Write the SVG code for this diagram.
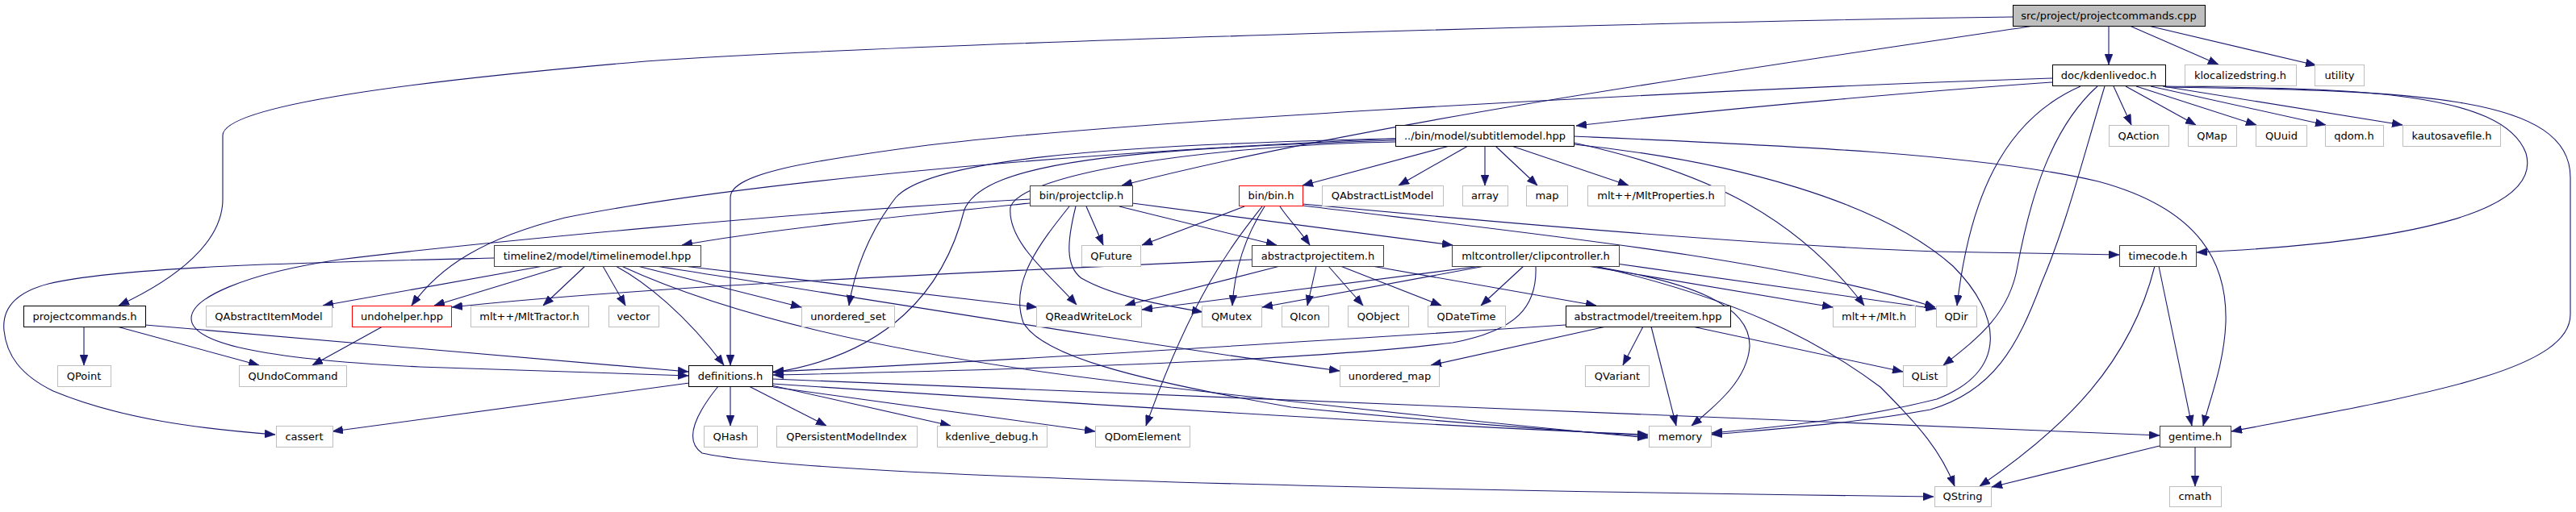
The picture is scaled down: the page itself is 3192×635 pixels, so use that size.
<svg xmlns="http://www.w3.org/2000/svg" width="3192" height="635" viewBox="0 0 3192 635">
<style>
text{font-family:"DejaVu Sans","Liberation Sans",sans-serif;font-size:13px;text-anchor:middle;fill:#000}
rect{stroke-width:1}
.root{fill:#bfbfbf;stroke:#000}
.n{fill:#fff;stroke:#000}
.d{fill:#fff;stroke:#404040}
.g{fill:#fff;stroke:#bfbfbf}
.r{fill:#fff;stroke:#ff0000}
#edges path{fill:none;stroke:#191970;stroke-width:1.1;marker-end:url(#ah)}
</style>
<defs>
<marker id="ah" markerUnits="userSpaceOnUse" markerWidth="13" markerHeight="10" refX="13" refY="5" orient="auto">
<path d="M0,0 L13,5 L0,10 z" fill="#191970" stroke="#191970" stroke-width="0.5"/>
</marker>
</defs>
<rect width="3192" height="635" fill="#fff"/>
<g id="edges">
<path d="M2613,32 L2613,80"/>
<path d="M2639,32 L2749,80"/>
<path d="M2662,32 L2870,81"/>
<path d="M2494,21 C2000,28 1100,55 800,76 C520,100 276,130 276,168 L276,247 C276,300 220,345 147,379"/>
<path d="M2521,32 C2200,80 1700,150 1390,230"/>
<path d="M2543,102 C2400,112 2150,133 1953,156"/>
<path d="M2543,97 L2400,102 C2000,118 1400,150 1150,180 C1000,200 905,215 905,245 L905,453"/>
<path d="M2578,107 C2480,150 2440,250 2425,379"/>
<path d="M2599,107 C2540,160 2515,250 2500,330 C2490,390 2450,420 2408,453"/>
<path d="M2608,107 C2580,200 2560,280 2530,350 C2500,430 2470,485 2392,508 C2300,525 2200,532 2121,539"/>
<path d="M2619,107 L2641,155"/>
<path d="M2634,107 L2721,155"/>
<path d="M2647,107 L2796,155"/>
<path d="M2665,107 L2882,155"/>
<path d="M2680,107 L2977,155"/>
<path d="M2683,107 C2900,110 3100,110 3130,190 C3150,260 3000,300 2722,313"/>
<path d="M2683,108 C3000,112 3185,120 3185,220 L3185,390 C3185,460 3000,490 2765,535"/>
<path d="M1796,181 L1614,230"/>
<path d="M1819,181 L1733,230"/>
<path d="M1840,181 L1840,230"/>
<path d="M1853,181 L1905,230"/>
<path d="M1873,181 L2018,230"/>
<path d="M1950,177 C2100,210 2220,260 2310,379"/>
<path d="M1950,169 C2200,180 2450,190 2600,225 C2730,260 2760,330 2758,400 C2756,450 2740,490 2730,528"/>
<path d="M1950,179 C2150,200 2330,250 2420,330 C2480,390 2490,460 2400,495 C2300,520 2200,530 2121,537"/>
<path d="M1729,176 C1500,180 1265,215 1252,257 C1248,300 1300,340 1334,378"/>
<path d="M1729,174 C1400,185 1220,200 1195,260 C1170,360 1100,440 958,462"/>
<path d="M1729,172 C1350,180 1150,200 1110,245 C1075,290 1058,340 1052,379"/>
<path d="M1729,172 C1300,190 900,230 700,270 C600,295 545,330 510,379"/>
<path d="M1276,252 C1100,270 950,285 845,304"/>
<path d="M1276,247 C1000,262 600,300 420,322 C300,340 237,370 237,395 C237,425 320,445 520,455 L853,466"/>
<path d="M1346,256 L1367,304"/>
<path d="M1387,256 L1582,304"/>
<path d="M1403,252 L1800,304"/>
<path d="M1333,256 C1322,300 1320,330 1340,345 C1380,368 1440,378 1490,387"/>
<path d="M1325,256 C1290,300 1250,350 1268,400 C1290,440 1400,470 1600,505 C1800,525 1950,535 2042,541"/>
<path d="M1542,256 L1415,304"/>
<path d="M1586,256 C1595,270 1610,285 1623,304"/>
<path d="M1564,256 C1530,300 1480,360 1420,528"/>
<path d="M1567,256 C1545,290 1530,330 1527,379"/>
<path d="M1614,253 C1900,280 2200,305 2400,312 L2626,316"/>
<path d="M1614,255 C1900,290 2200,320 2398,381"/>
<path d="M1551,322 C1200,338 800,355 560,381"/>
<path d="M1586,330 L1394,379"/>
<path d="M1631,330 L1620,379"/>
<path d="M1646,330 L1689,379"/>
<path d="M1661,330 L1786,379"/>
<path d="M1700,330 L1978,379"/>
<path d="M1835,330 L1415,384"/>
<path d="M1840,330 L1564,381"/>
<path d="M1888,330 L1835,379"/>
<path d="M1903,330 C1905,380 1880,410 1800,425 C1600,450 1200,460 958,465"/>
<path d="M1967,330 L2271,381"/>
<path d="M1972,330 C2100,350 2170,380 2168,430 C2165,470 2130,500 2096,528"/>
<path d="M1977,330 C2150,370 2250,420 2330,480 C2380,530 2405,560 2422,603"/>
<path d="M2003,327 L2399,383"/>
<path d="M1940,403 C1600,425 1200,450 958,461"/>
<path d="M1990,405 L1773,453"/>
<path d="M2036,405 L2011,453"/>
<path d="M2046,405 L2077,528"/>
<path d="M2097,405 L2358,461"/>
<path d="M612,320 C400,325 150,330 60,352 C10,365 3,390 5,410 C8,440 25,465 66,485 C150,520 250,532 341,539"/>
<path d="M673,330 L400,379"/>
<path d="M699,330 L538,379"/>
<path d="M725,330 L673,379"/>
<path d="M747,330 L775,379"/>
<path d="M763,330 C800,350 850,390 897,453"/>
<path d="M790,330 L993,381"/>
<path d="M847,330 L1285,381"/>
<path d="M813,330 C1100,375 1400,425 1660,460"/>
<path d="M770,330 C900,390 1100,440 1400,475 C1700,510 1900,530 2042,543"/>
<path d="M104,405 L104,453"/>
<path d="M145,405 L321,453"/>
<path d="M180,403 L853,461"/>
<path d="M474,405 L387,453"/>
<path d="M905,479 L905,528"/>
<path d="M928,479 L1024,528"/>
<path d="M956,478 L1178,528"/>
<path d="M958,480 L1357,535"/>
<path d="M854,475 L412,535"/>
<path d="M890,479 C865,510 845,545 870,562 C1000,590 1600,606 2396,616"/>
<path d="M957,470 C1600,497 2200,525 2676,540"/>
<path d="M957,476 C1400,505 1800,530 2042,539"/>
<path d="M2676,553 L2468,604"/>
<path d="M2720,554 L2720,603"/>
<path d="M2675,330 L2716,528"/>
<path d="M2670,330 C2640,450 2560,530 2453,603"/>
</g>
<g id="main"><rect class="root" x="2494.5" y="6.5" width="238" height="26"/><text x="2613" y="24">src/project/projectcommands.cpp</text></g>
<g id="kdoc"><rect class="n" x="2543.5" y="80.5" width="140" height="26"/><text x="2613" y="98">doc/kdenlivedoc.h</text></g>
<g id="kloc"><rect class="g" x="2707.5" y="80.5" width="138" height="26"/><text x="2776" y="98">klocalizedstring.h</text></g>
<g id="utility"><rect class="g" x="2868.5" y="80.5" width="61" height="26"/><text x="2899" y="98">utility</text></g>
<g id="qaction"><rect class="g" x="2613.5" y="155.5" width="74" height="26"/><text x="2650" y="173">QAction</text></g>
<g id="qmap"><rect class="g" x="2711.5" y="155.5" width="60" height="26"/><text x="2741" y="173">QMap</text></g>
<g id="quuid"><rect class="g" x="2795.5" y="155.5" width="63" height="26"/><text x="2827" y="173">QUuid</text></g>
<g id="qdom"><rect class="g" x="2881.5" y="155.5" width="72" height="26"/><text x="2917" y="173">qdom.h</text></g>
<g id="kauto"><rect class="g" x="2977.5" y="155.5" width="121" height="26"/><text x="3038" y="173">kautosavefile.h</text></g>
<g id="subt"><rect class="n" x="1729.5" y="155.5" width="221" height="26"/><text x="1840" y="173">../bin/model/subtitlemodel.hpp</text></g>
<g id="pclip"><rect class="d" x="1276.5" y="230.5" width="127" height="25"/><text x="1340" y="247">bin/projectclip.h</text></g>
<g id="bin"><rect class="r" x="1535.5" y="230.5" width="79" height="25"/><text x="1575" y="247">bin/bin.h</text></g>
<g id="qalm"><rect class="g" x="1638.5" y="230.5" width="150" height="25"/><text x="1713" y="247">QAbstractListModel</text></g>
<g id="array"><rect class="g" x="1812.5" y="230.5" width="56" height="25"/><text x="1840" y="247">array</text></g>
<g id="map"><rect class="g" x="1891.5" y="230.5" width="51" height="25"/><text x="1917" y="247">map</text></g>
<g id="mltprop"><rect class="g" x="1967.5" y="230.5" width="170" height="25"/><text x="2052" y="247">mlt++/MltProperties.h</text></g>
<g id="tlm"><rect class="d" x="612.5" y="304.5" width="256" height="26"/><text x="740" y="322">timeline2/model/timelinemodel.hpp</text></g>
<g id="qfuture"><rect class="g" x="1340.5" y="304.5" width="73" height="26"/><text x="1377" y="322">QFuture</text></g>
<g id="api"><rect class="d" x="1551.5" y="304.5" width="163" height="26"/><text x="1633" y="322">abstractprojectitem.h</text></g>
<g id="clipc"><rect class="d" x="1799.5" y="304.5" width="207" height="26"/><text x="1903" y="322">mltcontroller/clipcontroller.h</text></g>
<g id="timecode"><rect class="d" x="2626.5" y="304.5" width="95" height="26"/><text x="2674" y="322">timecode.h</text></g>
<g id="pch"><rect class="n" x="29.5" y="379.5" width="151" height="26"/><text x="105" y="397">projectcommands.h</text></g>
<g id="qaim"><rect class="g" x="255.5" y="379.5" width="156" height="26"/><text x="333" y="397">QAbstractItemModel</text></g>
<g id="undo"><rect class="r" x="436.5" y="379.5" width="123" height="26"/><text x="498" y="397">undohelper.hpp</text></g>
<g id="tractor"><rect class="g" x="583.5" y="379.5" width="146" height="26"/><text x="656" y="397">mlt++/MltTractor.h</text></g>
<g id="vector"><rect class="g" x="754.5" y="379.5" width="62" height="26"/><text x="785" y="397">vector</text></g>
<g id="uset"><rect class="g" x="993.5" y="379.5" width="115" height="26"/><text x="1051" y="397">unordered_set</text></g>
<g id="qrwl"><rect class="g" x="1284.5" y="379.5" width="130" height="26"/><text x="1349" y="397">QReadWriteLock</text></g>
<g id="qmutex"><rect class="g" x="1489.5" y="379.5" width="74" height="26"/><text x="1526" y="397">QMutex</text></g>
<g id="qicon"><rect class="g" x="1588.5" y="379.5" width="58" height="26"/><text x="1617" y="397">QIcon</text></g>
<g id="qobject"><rect class="g" x="1670.5" y="379.5" width="75" height="26"/><text x="1708" y="397">QObject</text></g>
<g id="qdatetime"><rect class="g" x="1769.5" y="379.5" width="96" height="26"/><text x="1817" y="397">QDateTime</text></g>
<g id="treeitem"><rect class="n" x="1940.5" y="379.5" width="204" height="26"/><text x="2042" y="397">abstractmodel/treeitem.hpp</text></g>
<g id="mlt"><rect class="g" x="2271.5" y="379.5" width="102" height="26"/><text x="2322" y="397">mlt++/Mlt.h</text></g>
<g id="qdir"><rect class="g" x="2399.5" y="379.5" width="50" height="26"/><text x="2424" y="397">QDir</text></g>
<g id="qpoint"><rect class="g" x="71.5" y="453.5" width="66" height="26"/><text x="104" y="471">QPoint</text></g>
<g id="qundo"><rect class="g" x="296.5" y="453.5" width="133" height="26"/><text x="363" y="471">QUndoCommand</text></g>
<g id="defs"><rect class="n" x="853.5" y="453.5" width="104" height="26"/><text x="905" y="471">definitions.h</text></g>
<g id="umap"><rect class="g" x="1660.5" y="453.5" width="123" height="26"/><text x="1722" y="471">unordered_map</text></g>
<g id="qvariant"><rect class="g" x="1964.5" y="453.5" width="79" height="26"/><text x="2004" y="471">QVariant</text></g>
<g id="qlist"><rect class="g" x="2358.5" y="453.5" width="54" height="26"/><text x="2385" y="471">QList</text></g>
<g id="cassert"><rect class="g" x="342.5" y="528.5" width="70" height="26"/><text x="377" y="546">cassert</text></g>
<g id="qhash"><rect class="g" x="872.5" y="528.5" width="66" height="26"/><text x="905" y="546">QHash</text></g>
<g id="qpmi"><rect class="g" x="962.5" y="528.5" width="174" height="26"/><text x="1049" y="546">QPersistentModelIndex</text></g>
<g id="kdebug"><rect class="g" x="1161.5" y="528.5" width="136" height="26"/><text x="1229" y="546">kdenlive_debug.h</text></g>
<g id="qdomel"><rect class="g" x="1357.5" y="528.5" width="117" height="26"/><text x="1416" y="546">QDomElement</text></g>
<g id="memory"><rect class="g" x="2043.5" y="528.5" width="77" height="26"/><text x="2082" y="546">memory</text></g>
<g id="gentime"><rect class="d" x="2676.5" y="528.5" width="88" height="26"/><text x="2720" y="546">gentime.h</text></g>
<g id="qstring"><rect class="g" x="2397.5" y="603.5" width="70" height="25"/><text x="2432" y="620">QString</text></g>
<g id="cmath"><rect class="g" x="2688.5" y="603.5" width="64" height="25"/><text x="2720" y="620">cmath</text></g>
</svg>
